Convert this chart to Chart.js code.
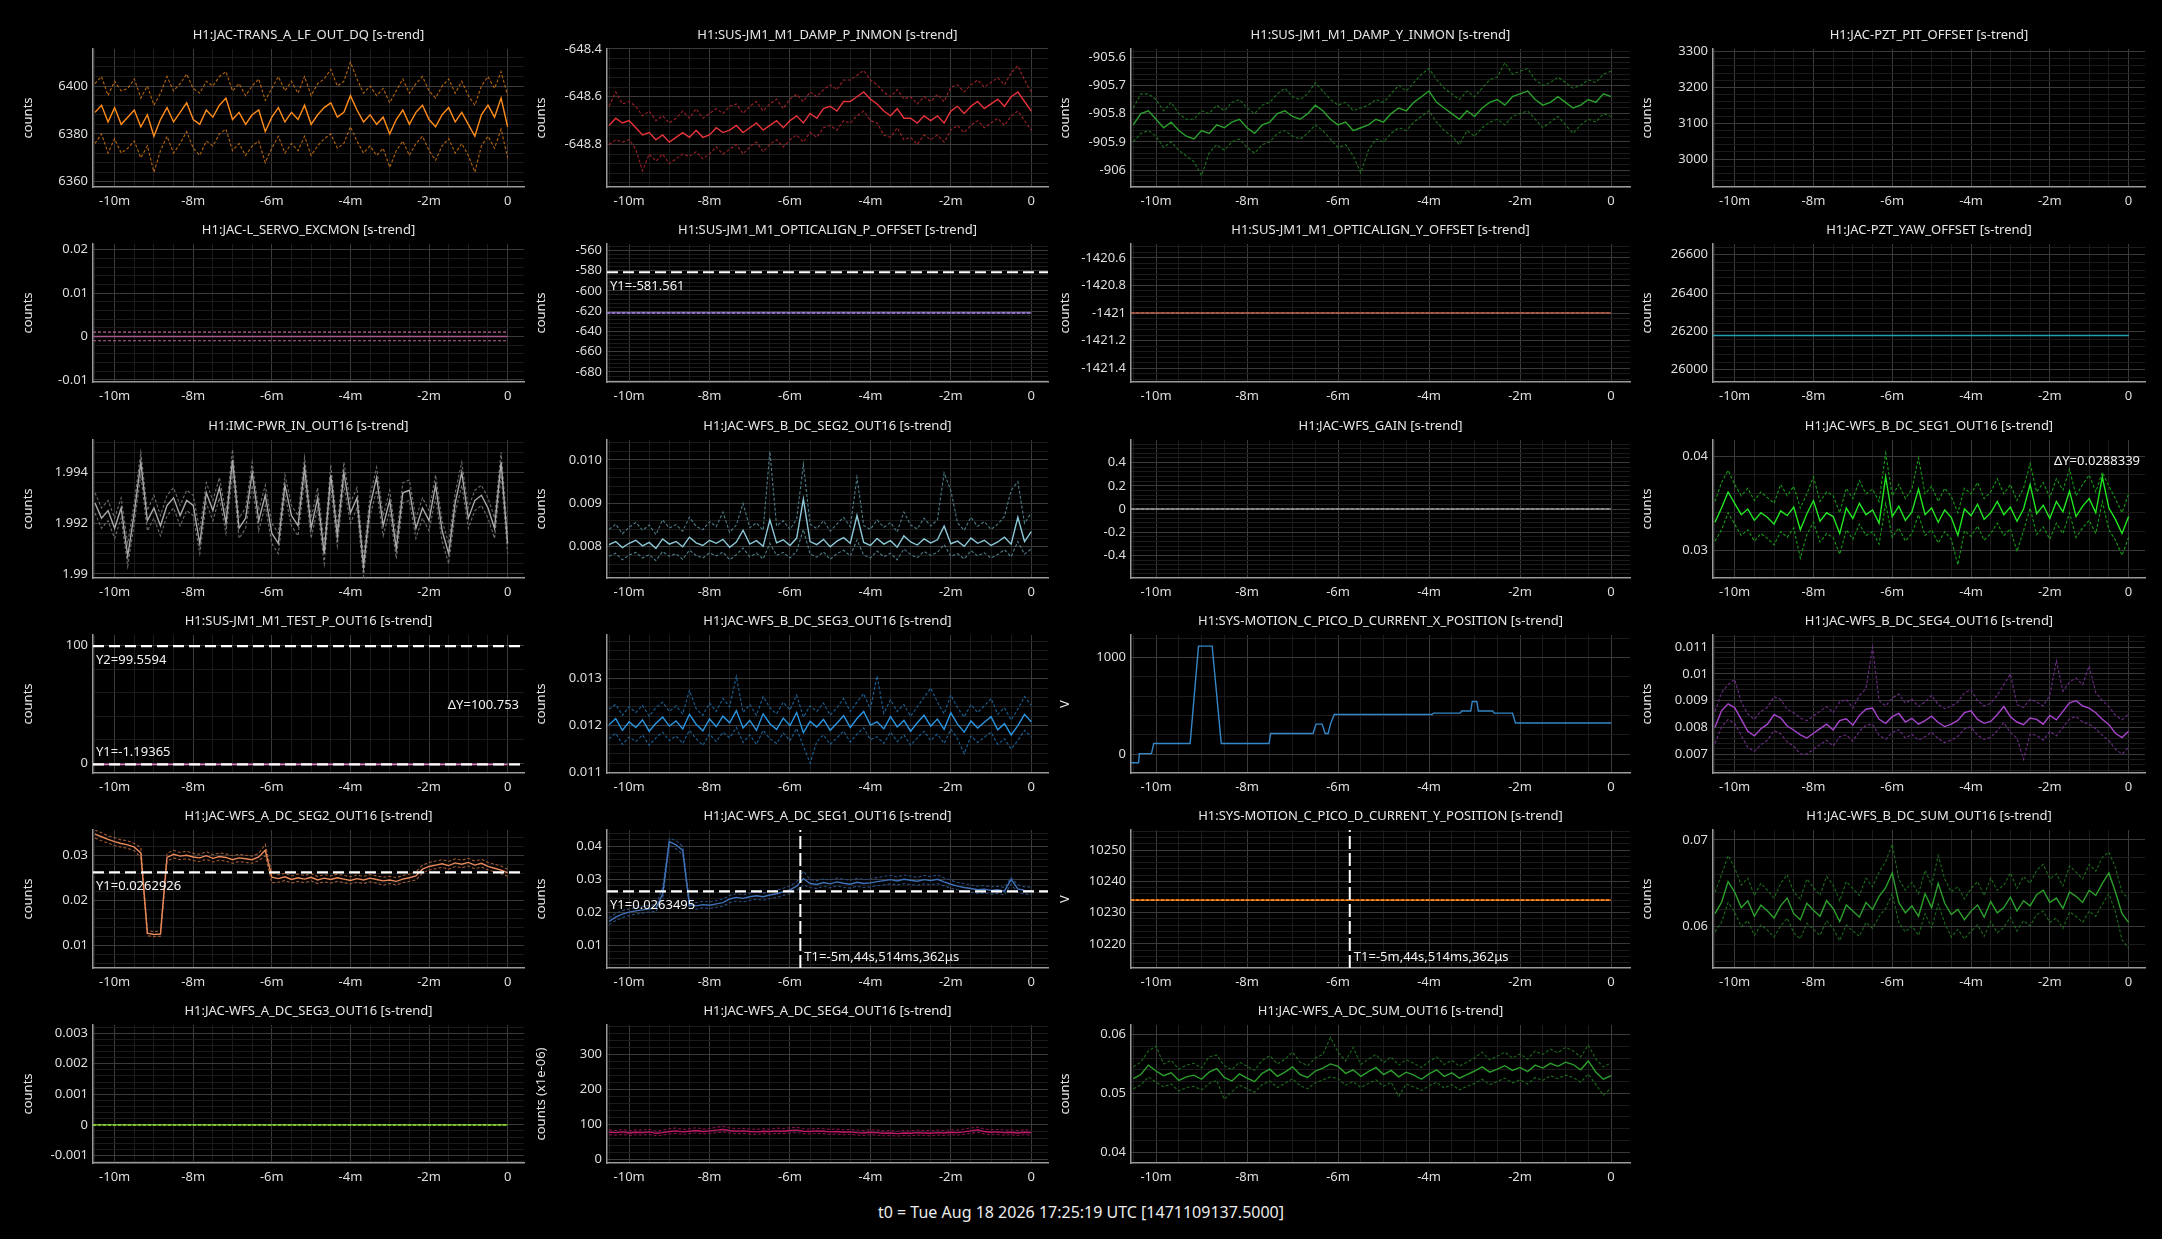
<!DOCTYPE html>
<html>
<head>
<meta charset="utf-8">
<script src="https://cdn.jsdelivr.net/npm/chart.js@4.4.1/dist/chart.umd.min.js"></script>
<style>
  body { margin: 0; background: #000; width: 2162px; height: 1239px; overflow: hidden; font-family: "Noto Sans", sans-serif; }
  canvas { position: absolute; }
  #t0 { position: absolute; left: 0; width: 2162px; top: 1201px; text-align: center; color: #ececec; font-size: 16px; line-height: 22px; }
</style>
</head>
<body>
<div id="t0">t0 = Tue Aug 18 2026 17:25:19 UTC [1471109137.5000]</div>
<script>
// sample times (seconds relative to t0)
const times = [
  -630, -620, -610, -600, -590, -580, -570, -560,
  -550, -540, -530, -520, -510, -500, -490, -480,
  -470, -460, -450, -440, -430, -420, -410, -400,
  -390, -380, -370, -360, -350, -340, -330, -320,
  -310, -300, -290, -280, -270, -260, -250, -240,
  -230, -220, -210, -200, -190, -180, -170, -160,
  -150, -140, -130, -120, -110, -100, -90, -80,
  -70, -60, -50, -40, -30, -20, -10, 0
];
const flatTimes = [-633, 0];
const xTickValues = [-600, -480, -360, -240, -120, 0];
const xTickLabels = ['-10m', '-8m', '-6m', '-4m', '-2m', '0'];

// H1:JAC-TRANS_A_LF_OUT_DQ
const transMean = [
  6389, 6392, 6385, 6391, 6384, 6387, 6390, 6383,
  6388, 6379, 6386, 6391, 6385, 6389, 6393, 6386,
  6384, 6390, 6387, 6392, 6395, 6386, 6389, 6384,
  6388, 6390, 6381, 6387, 6391, 6385, 6389, 6386,
  6392, 6384, 6388, 6391, 6393, 6387, 6389, 6396,
  6390, 6385, 6388, 6384, 6387, 6380, 6386, 6390,
  6384, 6389, 6392, 6386, 6383, 6388, 6391, 6385,
  6389, 6384, 6379, 6388, 6392, 6387, 6395, 6383
];
const transMax = [
  6401, 6404, 6396, 6402, 6398, 6399, 6403, 6395,
  6400, 6392, 6397, 6404, 6398, 6401, 6405, 6399,
  6397, 6402, 6400, 6404, 6406, 6398, 6401, 6396,
  6400, 6403, 6394, 6399, 6404, 6398, 6402, 6397,
  6404, 6396, 6401, 6403, 6407, 6400, 6402, 6410,
  6403, 6397, 6400, 6396, 6399, 6393, 6398, 6403,
  6397, 6401, 6404, 6398, 6395, 6400, 6403, 6397,
  6402, 6396, 6392, 6400, 6404, 6399, 6406, 6396
];
const transMin = [
  6376, 6380, 6372, 6378, 6372, 6374, 6377, 6370,
  6375, 6364, 6373, 6379, 6372, 6376, 6381, 6374,
  6371, 6377, 6375, 6380, 6382, 6373, 6376, 6371,
  6375, 6377, 6368, 6374, 6379, 6372, 6376, 6373,
  6379, 6371, 6375, 6378, 6380, 6374, 6376, 6383,
  6377, 6372, 6375, 6371, 6374, 6366, 6373, 6377,
  6371, 6376, 6379, 6373, 6369, 6375, 6378, 6372,
  6376, 6371, 6364, 6375, 6379, 6374, 6382, 6370
];

// H1:SUS-JM1_M1_DAMP_P_INMON
const dampPMean = [
  -648.72, -648.69, -648.71, -648.70, -648.73, -648.76, -648.75, -648.78,
  -648.76, -648.79, -648.77, -648.75, -648.77, -648.74, -648.77, -648.76,
  -648.73, -648.75, -648.74, -648.72, -648.75, -648.73, -648.71, -648.74,
  -648.72, -648.70, -648.73, -648.70, -648.68, -648.71, -648.67, -648.69,
  -648.65, -648.64, -648.66, -648.62, -648.62, -648.60, -648.58, -648.61,
  -648.63, -648.66, -648.68, -648.65, -648.69, -648.69, -648.71, -648.68,
  -648.70, -648.68, -648.71, -648.66, -648.64, -648.67, -648.64, -648.62,
  -648.65, -648.63, -648.61, -648.64, -648.60, -648.58, -648.62, -648.66
];
const dampPMax = [
  -648.64, -648.58, -648.63, -648.62, -648.64, -648.68, -648.66, -648.70,
  -648.68, -648.71, -648.69, -648.66, -648.69, -648.65, -648.69, -648.67,
  -648.65, -648.67, -648.64, -648.63, -648.67, -648.64, -648.62, -648.66,
  -648.63, -648.61, -648.65, -648.61, -648.59, -648.62, -648.58, -648.60,
  -648.57, -648.55, -648.57, -648.53, -648.53, -648.51, -648.49, -648.53,
  -648.55, -648.58, -648.60, -648.57, -648.61, -648.60, -648.63, -648.60,
  -648.62, -648.59, -648.62, -648.56, -648.55, -648.58, -648.55, -648.53,
  -648.56, -648.54, -648.52, -648.55, -648.50, -648.47, -648.53, -648.58
];
const dampPMin = [
  -648.80, -648.78, -648.79, -648.78, -648.82, -648.91, -648.84, -648.87,
  -648.84, -648.88, -648.86, -648.84, -648.85, -648.83, -648.86, -648.84,
  -648.81, -648.84, -648.82, -648.80, -648.84, -648.81, -648.79, -648.83,
  -648.80, -648.78, -648.81, -648.78, -648.76, -648.79, -648.75, -648.77,
  -648.73, -648.72, -648.74, -648.70, -648.71, -648.68, -648.66, -648.70,
  -648.71, -648.76, -648.77, -648.73, -648.78, -648.77, -648.80, -648.76,
  -648.78, -648.76, -648.79, -648.74, -648.72, -648.75, -648.72, -648.70,
  -648.73, -648.71, -648.69, -648.72, -648.68, -648.66, -648.70, -648.74
];

// H1:SUS-JM1_M1_DAMP_Y_INMON
const dampYMean = [
  -905.84, -905.80, -905.79, -905.82, -905.85, -905.83, -905.86, -905.88,
  -905.89, -905.86, -905.87, -905.84, -905.85, -905.83, -905.82, -905.85,
  -905.87, -905.84, -905.83, -905.80, -905.79, -905.81, -905.82, -905.80,
  -905.77, -905.79, -905.82, -905.84, -905.83, -905.86, -905.85, -905.84,
  -905.82, -905.83, -905.80, -905.78, -905.79, -905.76, -905.74, -905.72,
  -905.76, -905.78, -905.80, -905.82, -905.79, -905.81, -905.78, -905.76,
  -905.75, -905.77, -905.74, -905.73, -905.72, -905.75, -905.77, -905.76,
  -905.74, -905.76, -905.78, -905.77, -905.75, -905.76, -905.73, -905.74
];
const dampYMax = [
  -905.78, -905.73, -905.73, -905.75, -905.79, -905.76, -905.80, -905.82,
  -905.82, -905.79, -905.80, -905.77, -905.79, -905.76, -905.75, -905.78,
  -905.80, -905.77, -905.76, -905.73, -905.71, -905.74, -905.75, -905.73,
  -905.69, -905.72, -905.75, -905.77, -905.76, -905.79, -905.78, -905.77,
  -905.75, -905.76, -905.73, -905.70, -905.72, -905.69, -905.66, -905.64,
  -905.68, -905.71, -905.73, -905.75, -905.72, -905.74, -905.71, -905.68,
  -905.67, -905.62, -905.66, -905.65, -905.64, -905.68, -905.70, -905.69,
  -905.67, -905.69, -905.71, -905.70, -905.68, -905.69, -905.66, -905.65
];
const dampYMin = [
  -905.90, -905.87, -905.86, -905.88, -905.92, -905.90, -905.93, -905.95,
  -905.97, -906.02, -905.94, -905.91, -905.93, -905.90, -905.89, -905.92,
  -905.94, -905.91, -905.90, -905.87, -905.86, -905.88, -905.89, -905.87,
  -905.84, -905.86, -905.89, -905.92, -905.91, -905.95, -906.01, -905.93,
  -905.89, -905.90, -905.87, -905.85, -905.86, -905.83, -905.81, -905.79,
  -905.83, -905.86, -905.88, -905.91, -905.86, -905.88, -905.85, -905.83,
  -905.82, -905.84, -905.81, -905.80, -905.79, -905.82, -905.85, -905.83,
  -905.81, -905.84, -905.87, -905.84, -905.82, -905.83, -905.80, -905.81
];

// H1:JAC-PZT_PIT_OFFSET (nothing in range)
const pitMean = [];

// H1:JAC-L_SERVO_EXCMON
const servoMean = [0, 0];
const servoMax = [0.001, 0.001];
const servoMin = [-0.001, -0.001];

// H1:SUS-JM1_M1_OPTICALIGN_P_OFFSET / _Y_OFFSET, H1:JAC-PZT_YAW_OFFSET
const optPMean = [-621.7, -621.7];
const optYMean = [-1421, -1421];
const yawMean = [26179, 26179];

// H1:IMC-PWR_IN_OUT16
const pwrMean = [
  1.9928, 1.9922, 1.9925, 1.9918, 1.9926, 1.9907, 1.9924, 1.9944,
  1.9921, 1.9926, 1.9919, 1.9927, 1.9930, 1.9923, 1.9929, 1.9927,
  1.9912, 1.9932, 1.9925, 1.9934, 1.9920, 1.9945, 1.9918, 1.9922,
  1.9940, 1.9921, 1.9931, 1.9916, 1.9912, 1.9935, 1.9923, 1.9919,
  1.9942, 1.9918, 1.9930, 1.9908, 1.9939, 1.9915, 1.9940, 1.9924,
  1.9930, 1.9903, 1.9927, 1.9938, 1.9919, 1.9929, 1.9910, 1.9932,
  1.9933, 1.9918, 1.9926, 1.9921, 1.9935, 1.9917, 1.9908, 1.9928,
  1.9940, 1.9922, 1.9929, 1.9931, 1.9926, 1.9918, 1.9944, 1.9912
];
const pwrMax = [
  1.9932, 1.9926, 1.9929, 1.9922, 1.9930, 1.9912, 1.9928, 1.9948,
  1.9925, 1.9931, 1.9923, 1.9931, 1.9934, 1.9927, 1.9933, 1.9931,
  1.9917, 1.9936, 1.9929, 1.9938, 1.9924, 1.9949, 1.9922, 1.9926,
  1.9944, 1.9925, 1.9935, 1.9920, 1.9916, 1.9939, 1.9927, 1.9923,
  1.9946, 1.9922, 1.9934, 1.9912, 1.9943, 1.9919, 1.9944, 1.9928,
  1.9934, 1.9907, 1.9931, 1.9942, 1.9923, 1.9933, 1.9914, 1.9936,
  1.9937, 1.9922, 1.9930, 1.9925, 1.9939, 1.9921, 1.9912, 1.9932,
  1.9944, 1.9926, 1.9933, 1.9935, 1.9930, 1.9922, 1.9948, 1.9916
];
const pwrMin = [
  1.9924, 1.9918, 1.9921, 1.9914, 1.9922, 1.9903, 1.9920, 1.9939,
  1.9917, 1.9922, 1.9915, 1.9923, 1.9926, 1.9919, 1.9925, 1.9923,
  1.9908, 1.9928, 1.9921, 1.9930, 1.9916, 1.9940, 1.9914, 1.9918,
  1.9935, 1.9917, 1.9927, 1.9912, 1.9908, 1.9931, 1.9919, 1.9915,
  1.9937, 1.9914, 1.9926, 1.9904, 1.9934, 1.9911, 1.9935, 1.9920,
  1.9926, 1.9899, 1.9923, 1.9933, 1.9915, 1.9925, 1.9906, 1.9928,
  1.9929, 1.9914, 1.9922, 1.9917, 1.9930, 1.9913, 1.9904, 1.9924,
  1.9935, 1.9918, 1.9925, 1.9927, 1.9922, 1.9914, 1.9939, 1.9908
];

// H1:JAC-WFS_B_DC_SEG2_OUT16
const bSeg2Mean = [
  0.00805, 0.00812, 0.00798, 0.00808, 0.00815, 0.00802, 0.00810, 0.00796,
  0.00818, 0.00806, 0.00812, 0.00800, 0.00822, 0.00809, 0.00803, 0.00815,
  0.00808, 0.00817, 0.00799, 0.00811, 0.00838, 0.00806, 0.00814, 0.00801,
  0.00862, 0.00809, 0.00816, 0.00803, 0.00820, 0.00910, 0.00812, 0.00805,
  0.00817, 0.00800, 0.00813, 0.00821, 0.00808, 0.00872, 0.00810, 0.00803,
  0.00819, 0.00806, 0.00814, 0.00799, 0.00825, 0.00811, 0.00804, 0.00818,
  0.00809, 0.00816, 0.00848, 0.00807, 0.00813, 0.00801, 0.00820, 0.00808,
  0.00815, 0.00803, 0.00811, 0.00822, 0.00806, 0.00868, 0.00812, 0.00835
];
const bSeg2Max = [
  0.00840, 0.00852, 0.00830, 0.00845, 0.00856, 0.00838, 0.00850, 0.00828,
  0.00862, 0.00843, 0.00851, 0.00836, 0.00868, 0.00847, 0.00839, 0.00858,
  0.00846, 0.00880, 0.00833, 0.00850, 0.00900, 0.00844, 0.00855, 0.00838,
  0.01020, 0.00848, 0.00860, 0.00840, 0.00864, 0.00990, 0.00852, 0.00842,
  0.00860, 0.00836, 0.00852, 0.00868, 0.00846, 0.00960, 0.00849, 0.00840,
  0.00862, 0.00845, 0.00856, 0.00834, 0.00880, 0.00850, 0.00841, 0.00866,
  0.00848, 0.00862, 0.00970, 0.00930, 0.00855, 0.00838, 0.00868, 0.00847,
  0.00858, 0.00840, 0.00852, 0.00870, 0.00930, 0.00950, 0.00854, 0.00878
];
const bSeg2Min = [
  0.00778, 0.00785, 0.00770, 0.00781, 0.00787, 0.00774, 0.00782, 0.00768,
  0.00789, 0.00778, 0.00784, 0.00771, 0.00792, 0.00780, 0.00774, 0.00786,
  0.00779, 0.00788, 0.00770, 0.00782, 0.00797, 0.00777, 0.00785, 0.00772,
  0.00808, 0.00780, 0.00787, 0.00774, 0.00790, 0.00840, 0.00783, 0.00776,
  0.00788, 0.00771, 0.00784, 0.00792, 0.00779, 0.00816, 0.00781, 0.00774,
  0.00790, 0.00777, 0.00785, 0.00770, 0.00795, 0.00782, 0.00775, 0.00789,
  0.00780, 0.00787, 0.00805, 0.00778, 0.00784, 0.00772, 0.00791, 0.00779,
  0.00786, 0.00774, 0.00782, 0.00793, 0.00777, 0.00812, 0.00783, 0.00795
];

// H1:JAC-WFS_GAIN
const gainMean = [0, 0];

// H1:JAC-WFS_B_DC_SEG1_OUT16
const bSeg1Mean = [
  0.0330, 0.0345, 0.0362, 0.0350, 0.0338, 0.0344, 0.0332, 0.0340,
  0.0335, 0.0328, 0.0342, 0.0337, 0.0346, 0.0322, 0.0339, 0.0353,
  0.0331, 0.0340, 0.0336, 0.0318, 0.0345, 0.0334, 0.0350, 0.0338,
  0.0343, 0.0329, 0.0378, 0.0336, 0.0347, 0.0332, 0.0341, 0.0365,
  0.0338, 0.0345, 0.0330, 0.0343, 0.0335, 0.0316, 0.0344, 0.0337,
  0.0349, 0.0333, 0.0340, 0.0352, 0.0338, 0.0346, 0.0331, 0.0344,
  0.0370, 0.0339, 0.0348, 0.0334, 0.0352, 0.0341, 0.0363, 0.0336,
  0.0347, 0.0355, 0.0340, 0.0378, 0.0345, 0.0333, 0.0318, 0.0336
];
const bSeg1Max = [
  0.0352, 0.0372, 0.0385, 0.0370, 0.0358, 0.0366, 0.0353, 0.0362,
  0.0356, 0.0350, 0.0370, 0.0358, 0.0368, 0.0345, 0.0360, 0.0378,
  0.0352, 0.0362, 0.0358, 0.0340, 0.0366, 0.0355, 0.0374, 0.0360,
  0.0365, 0.0352, 0.0403, 0.0358, 0.0370, 0.0355, 0.0365, 0.0398,
  0.0360, 0.0368, 0.0352, 0.0366, 0.0357, 0.0340, 0.0366, 0.0360,
  0.0372, 0.0355, 0.0362, 0.0376, 0.0360, 0.0370, 0.0353, 0.0366,
  0.0392, 0.0362, 0.0372, 0.0356, 0.0376, 0.0364, 0.0386, 0.0358,
  0.0370, 0.0380, 0.0362, 0.0383, 0.0368, 0.0355, 0.0340, 0.0360
];
const bSeg1Min = [
  0.0310, 0.0322, 0.0340, 0.0328, 0.0316, 0.0322, 0.0310, 0.0318,
  0.0313, 0.0306, 0.0320, 0.0314, 0.0324, 0.0292, 0.0317, 0.0330,
  0.0309, 0.0318, 0.0314, 0.0296, 0.0322, 0.0312, 0.0328, 0.0316,
  0.0320, 0.0307, 0.0350, 0.0314, 0.0324, 0.0310, 0.0318, 0.0338,
  0.0316, 0.0322, 0.0308, 0.0320, 0.0312, 0.0285, 0.0321, 0.0315,
  0.0326, 0.0311, 0.0318, 0.0329, 0.0316, 0.0323, 0.0299, 0.0321,
  0.0345, 0.0317, 0.0325, 0.0312, 0.0329, 0.0318, 0.0340, 0.0314,
  0.0324, 0.0332, 0.0318, 0.0352, 0.0322, 0.0311, 0.0295, 0.0314
];
const bSeg1Delta = 0.0288339;

// H1:SUS-JM1_M1_TEST_P_OUT16
const testPMean = [-1.19365, -1.19365];
const testPY1 = -1.19365;
const testPY2 = 99.5594;

// H1:JAC-WFS_B_DC_SEG3_OUT16
const bSeg3Mean = [
  0.01202, 0.01215, 0.01190, 0.01208, 0.01196, 0.01212, 0.01188, 0.01205,
  0.01218, 0.01199, 0.01210, 0.01193, 0.01224, 0.01203, 0.01189, 0.01214,
  0.01198, 0.01220, 0.01206, 0.01232, 0.01195, 0.01211, 0.01190, 0.01225,
  0.01204, 0.01192, 0.01216, 0.01200, 0.01228, 0.01185, 0.01209, 0.01197,
  0.01213, 0.01190, 0.01205, 0.01221, 0.01196, 0.01215, 0.01230, 0.01201,
  0.01208, 0.01193, 0.01219, 0.01197, 0.01211, 0.01188, 0.01206, 0.01222,
  0.01199, 0.01214, 0.01192, 0.01227, 0.01203, 0.01186, 0.01210, 0.01195,
  0.01207, 0.01219, 0.01191, 0.01204, 0.01180, 0.01200, 0.01224, 0.01208
];
const bSeg3Max = [
  0.01235, 0.01245, 0.01222, 0.01240, 0.01228, 0.01243, 0.01220, 0.01238,
  0.01250, 0.01230, 0.01242, 0.01225, 0.01275, 0.01236, 0.01222, 0.01248,
  0.01230, 0.01258, 0.01240, 0.01305, 0.01228, 0.01245, 0.01222, 0.01262,
  0.01238, 0.01225, 0.01250, 0.01233, 0.01265, 0.01218, 0.01242, 0.01230,
  0.01248, 0.01222, 0.01238, 0.01258, 0.01230, 0.01250, 0.01268, 0.01235,
  0.01306, 0.01226, 0.01255, 0.01230, 0.01245, 0.01220, 0.01240, 0.01260,
  0.01280, 0.01250, 0.01225, 0.01265, 0.01238, 0.01218, 0.01245, 0.01228,
  0.01242, 0.01258, 0.01224, 0.01238, 0.01212, 0.01235, 0.01262, 0.01243
];
const bSeg3Min = [
  0.01172, 0.01184, 0.01160, 0.01176, 0.01166, 0.01180, 0.01158, 0.01174,
  0.01186, 0.01168, 0.01178, 0.01162, 0.01190, 0.01172, 0.01158, 0.01182,
  0.01166, 0.01186, 0.01174, 0.01196, 0.01164, 0.01180, 0.01160, 0.01190,
  0.01172, 0.01162, 0.01184, 0.01168, 0.01194, 0.01156, 0.01120, 0.01166,
  0.01180, 0.01160, 0.01174, 0.01188, 0.01165, 0.01182, 0.01195, 0.01170,
  0.01176, 0.01162, 0.01186, 0.01166, 0.01180, 0.01158, 0.01174, 0.01188,
  0.01168, 0.01182, 0.01162, 0.01192, 0.01172, 0.01140, 0.01178, 0.01164,
  0.01175, 0.01186, 0.01160, 0.01172, 0.01150, 0.01168, 0.01190, 0.01176
];

// H1:SYS-MOTION_C_PICO_D_CURRENT_X_POSITION
const picoXTimes = [
  -633, -623, -622, -606, -603, -555, -544, -526, -514, -451, -449,
  -393, -389, -381, -377, -373, -370, -365, -236, -234, -199, -197,
  -185, -183, -177, -175, -156, -154, -130, -126, 0
];
const picoXVals = [
  -90, -90, 5, 5, 110, 110, 1117, 1117, 110, 110, 213,
  213, 310, 310, 213, 213, 310, 410, 410, 424, 424, 445,
  445, 544, 544, 445, 445, 424, 424, 321, 321
];

// H1:JAC-WFS_B_DC_SEG4_OUT16
const bSeg4Mean = [
  0.00800, 0.00862, 0.00888, 0.00874, 0.00830, 0.00785, 0.00768, 0.00795,
  0.00812, 0.00848, 0.00836, 0.00805, 0.00790, 0.00772, 0.00760, 0.00778,
  0.00795, 0.00812, 0.00790, 0.00825, 0.00832, 0.00808, 0.00845, 0.00868,
  0.00872, 0.00830, 0.00815, 0.00840, 0.00852, 0.00820, 0.00834, 0.00812,
  0.00825, 0.00842, 0.00818, 0.00803, 0.00812, 0.00826, 0.00855, 0.00862,
  0.00830, 0.00815, 0.00822, 0.00848, 0.00878, 0.00840, 0.00820, 0.00810,
  0.00835, 0.00830, 0.00812, 0.00845, 0.00828, 0.00860, 0.00892, 0.00900,
  0.00880, 0.00872, 0.00855, 0.00830, 0.00810, 0.00778, 0.00762, 0.00785
];
const bSeg4Max = [
  0.00860, 0.00930, 0.00960, 0.00980, 0.00895, 0.00850, 0.00830, 0.00860,
  0.00875, 0.00915, 0.00905, 0.00868, 0.00855, 0.00835, 0.00825, 0.00842,
  0.00860, 0.00878, 0.00855, 0.00895, 0.00905, 0.00872, 0.00920, 0.00945,
  0.01100, 0.00900, 0.00880, 0.00910, 0.00925, 0.00890, 0.00905, 0.00878,
  0.00895, 0.00920, 0.00885, 0.00870, 0.00880, 0.00895, 0.00930, 0.00940,
  0.00900, 0.00880, 0.00890, 0.00920, 0.00960, 0.01000, 0.00885, 0.00875,
  0.00905, 0.00895, 0.00880, 0.00920, 0.01050, 0.00935, 0.00970, 0.00985,
  0.00960, 0.01030, 0.00930, 0.00900, 0.00878, 0.00845, 0.00828, 0.00850
];
const bSeg4Min = [
  0.00740, 0.00800, 0.00830, 0.00815, 0.00770, 0.00725, 0.00710, 0.00735,
  0.00752, 0.00788, 0.00776, 0.00745, 0.00730, 0.00700, 0.00700, 0.00718,
  0.00735, 0.00752, 0.00730, 0.00765, 0.00772, 0.00748, 0.00785, 0.00808,
  0.00812, 0.00770, 0.00755, 0.00780, 0.00792, 0.00760, 0.00774, 0.00752,
  0.00765, 0.00782, 0.00758, 0.00743, 0.00752, 0.00766, 0.00795, 0.00802,
  0.00770, 0.00755, 0.00762, 0.00788, 0.00818, 0.00780, 0.00760, 0.00680,
  0.00775, 0.00770, 0.00752, 0.00785, 0.00768, 0.00800, 0.00832, 0.00840,
  0.00820, 0.00812, 0.00795, 0.00770, 0.00750, 0.00718, 0.00700, 0.00725
];

// H1:JAC-WFS_A_DC_SEG2_OUT16
const aSeg2Mean = [
  0.0348, 0.0342, 0.0336, 0.0331, 0.0327, 0.0324, 0.0319, 0.0306,
  0.0128, 0.0125, 0.0126, 0.0296, 0.0303, 0.0299, 0.0301, 0.0297,
  0.0295, 0.0300, 0.0294, 0.0298, 0.0296, 0.0291, 0.0295, 0.0293,
  0.0291, 0.0297, 0.0312, 0.0252, 0.0249, 0.0253, 0.0247, 0.0251,
  0.0248, 0.0252, 0.0246, 0.0250, 0.0247, 0.0251, 0.0248, 0.0245,
  0.0249, 0.0246, 0.0250, 0.0247, 0.0244, 0.0246, 0.0243, 0.0248,
  0.0251, 0.0255, 0.0270, 0.0276, 0.0279, 0.0282, 0.0278, 0.0284,
  0.0281, 0.0285, 0.0279, 0.0283, 0.0276, 0.0272, 0.0268, 0.0262
];
const aSeg2Max = [
  0.0357, 0.0351, 0.0344, 0.0340, 0.0335, 0.0333, 0.0327, 0.0318,
  0.0135, 0.0131, 0.0133, 0.0305, 0.0312, 0.0307, 0.0310, 0.0305,
  0.0303, 0.0309, 0.0302, 0.0306, 0.0304, 0.0300, 0.0303, 0.0301,
  0.0299, 0.0305, 0.0325, 0.0262, 0.0257, 0.0261, 0.0255, 0.0259,
  0.0256, 0.0260, 0.0254, 0.0258, 0.0255, 0.0259, 0.0256, 0.0253,
  0.0257, 0.0254, 0.0258, 0.0255, 0.0252, 0.0254, 0.0251, 0.0256,
  0.0259, 0.0264, 0.0279, 0.0285, 0.0288, 0.0291, 0.0287, 0.0293,
  0.0290, 0.0294, 0.0288, 0.0292, 0.0285, 0.0281, 0.0277, 0.0270
];
const aSeg2Min = [
  0.0339, 0.0333, 0.0328, 0.0322, 0.0319, 0.0316, 0.0311, 0.0296,
  0.0122, 0.0120, 0.0121, 0.0288, 0.0295, 0.0291, 0.0293, 0.0289,
  0.0287, 0.0292, 0.0286, 0.0290, 0.0288, 0.0283, 0.0287, 0.0285,
  0.0283, 0.0289, 0.0300, 0.0240, 0.0241, 0.0245, 0.0239, 0.0243,
  0.0240, 0.0244, 0.0238, 0.0242, 0.0239, 0.0243, 0.0240, 0.0237,
  0.0241, 0.0238, 0.0242, 0.0239, 0.0234, 0.0238, 0.0235, 0.0240,
  0.0243, 0.0246, 0.0261, 0.0268, 0.0271, 0.0274, 0.0270, 0.0276,
  0.0273, 0.0277, 0.0271, 0.0275, 0.0268, 0.0264, 0.0260, 0.0254
];
const aSeg2Y1 = 0.0262926;

// H1:JAC-WFS_A_DC_SEG1_OUT16
const aSeg1Mean = [
  0.0172, 0.0185, 0.0194, 0.0200, 0.0204, 0.0207, 0.0210, 0.0212,
  0.0255, 0.0415, 0.0405, 0.0388, 0.0222, 0.0219, 0.0223, 0.0221,
  0.0225, 0.0229, 0.0240, 0.0245, 0.0242, 0.0247, 0.0250, 0.0247,
  0.0252, 0.0256, 0.0262, 0.0268, 0.0279, 0.0302, 0.0287, 0.0284,
  0.0290, 0.0286, 0.0292, 0.0288, 0.0285, 0.0291, 0.0287, 0.0289,
  0.0293, 0.0296, 0.0299, 0.0295, 0.0300, 0.0297, 0.0294, 0.0299,
  0.0296, 0.0300, 0.0292, 0.0285, 0.0279, 0.0275, 0.0272, 0.0268,
  0.0270, 0.0266, 0.0268, 0.0264, 0.0300, 0.0271, 0.0266, 0.0265
];
const aSeg1Max = [
  0.0182, 0.0196, 0.0205, 0.0210, 0.0214, 0.0217, 0.0221, 0.0223,
  0.0275, 0.0425, 0.0418, 0.0400, 0.0232, 0.0229, 0.0233, 0.0231,
  0.0235, 0.0240, 0.0251, 0.0256, 0.0253, 0.0258, 0.0261, 0.0258,
  0.0263, 0.0267, 0.0273, 0.0280, 0.0292, 0.0325, 0.0299, 0.0296,
  0.0301, 0.0298, 0.0304, 0.0300, 0.0297, 0.0303, 0.0299, 0.0301,
  0.0305, 0.0309, 0.0312, 0.0307, 0.0313, 0.0310, 0.0306, 0.0312,
  0.0308, 0.0313, 0.0304, 0.0297, 0.0290, 0.0287, 0.0283, 0.0279,
  0.0281, 0.0277, 0.0279, 0.0275, 0.0305, 0.0283, 0.0277, 0.0276
];
const aSeg1Min = [
  0.0162, 0.0174, 0.0184, 0.0190, 0.0194, 0.0197, 0.0200, 0.0202,
  0.0235, 0.0405, 0.0393, 0.0376, 0.0212, 0.0209, 0.0213, 0.0211,
  0.0215, 0.0218, 0.0229, 0.0234, 0.0231, 0.0236, 0.0239, 0.0236,
  0.0241, 0.0245, 0.0251, 0.0256, 0.0266, 0.0283, 0.0275, 0.0272,
  0.0279, 0.0274, 0.0280, 0.0276, 0.0273, 0.0279, 0.0275, 0.0277,
  0.0281, 0.0283, 0.0286, 0.0283, 0.0287, 0.0284, 0.0282, 0.0286,
  0.0284, 0.0287, 0.0280, 0.0273, 0.0268, 0.0264, 0.0261, 0.0257,
  0.0259, 0.0255, 0.0257, 0.0253, 0.0285, 0.0260, 0.0255, 0.0254
];
const aSeg1Y1 = 0.0263495;
const cursorT1 = -344.514362;
const cursorT1Text = 'T1=-5m,44s,514ms,362μs';

// H1:SYS-MOTION_C_PICO_D_CURRENT_Y_POSITION
const picoYMean = [10234, 10234];

// H1:JAC-WFS_B_DC_SUM_OUT16
const bSumMean = [
  0.0615, 0.0628, 0.0652, 0.0640, 0.0622, 0.0630, 0.0612, 0.0625,
  0.0618, 0.0610, 0.0624, 0.0633, 0.0615, 0.0608, 0.0627, 0.0619,
  0.0612, 0.0630, 0.0621, 0.0606, 0.0625, 0.0618, 0.0611, 0.0628,
  0.0620, 0.0635, 0.0645, 0.0662, 0.0628, 0.0616, 0.0624, 0.0612,
  0.0638, 0.0622, 0.0650, 0.0627, 0.0614, 0.0620, 0.0608, 0.0618,
  0.0625, 0.0611, 0.0629, 0.0616, 0.0622, 0.0634, 0.0618, 0.0630,
  0.0624, 0.0637, 0.0642, 0.0628, 0.0633, 0.0621, 0.0640, 0.0635,
  0.0628, 0.0642, 0.0636, 0.0650, 0.0662, 0.0640, 0.0615, 0.0605
];
const bSumMax = [
  0.0640, 0.0660, 0.0682, 0.0668, 0.0648, 0.0656, 0.0636, 0.0650,
  0.0642, 0.0633, 0.0650, 0.0660, 0.0640, 0.0632, 0.0655, 0.0645,
  0.0636, 0.0658, 0.0648, 0.0630, 0.0652, 0.0644, 0.0636, 0.0656,
  0.0646, 0.0663, 0.0675, 0.0695, 0.0655, 0.0642, 0.0651, 0.0638,
  0.0665, 0.0648, 0.0682, 0.0655, 0.0640, 0.0646, 0.0632, 0.0644,
  0.0652, 0.0636, 0.0656, 0.0642, 0.0648, 0.0662, 0.0644, 0.0658,
  0.0650, 0.0665, 0.0672, 0.0655, 0.0661, 0.0647, 0.0670, 0.0663,
  0.0655, 0.0672, 0.0664, 0.0680, 0.0686, 0.0668, 0.0640, 0.0632
];
const bSumMin = [
  0.0594, 0.0605, 0.0628, 0.0617, 0.0600, 0.0607, 0.0590, 0.0602,
  0.0596, 0.0588, 0.0601, 0.0610, 0.0593, 0.0586, 0.0604, 0.0597,
  0.0590, 0.0607, 0.0598, 0.0584, 0.0602, 0.0595, 0.0589, 0.0605,
  0.0598, 0.0612, 0.0621, 0.0638, 0.0605, 0.0594, 0.0601, 0.0590,
  0.0615, 0.0599, 0.0626, 0.0604, 0.0588, 0.0597, 0.0586, 0.0595,
  0.0602, 0.0589, 0.0606, 0.0593, 0.0599, 0.0611, 0.0595, 0.0607,
  0.0601, 0.0614, 0.0618, 0.0605, 0.0610, 0.0598, 0.0617, 0.0612,
  0.0605, 0.0618, 0.0612, 0.0626, 0.0638, 0.0617, 0.0585, 0.0575
];

// H1:JAC-WFS_A_DC_SEG3_OUT16
const aSeg3Mean = [0, 0];

// H1:JAC-WFS_A_DC_SEG4_OUT16 (x1e-06)
const aSeg4Mean = [
  78, 77, 79, 76, 78, 77, 79, 75,
  77, 80, 82, 79, 81, 83, 80, 82,
  84, 86, 83, 81, 82, 80, 79, 81,
  80, 82, 81, 83, 84, 81, 80, 82,
  81, 79, 80, 78, 79, 77, 76, 78,
  77, 75, 76, 74, 76, 75, 77, 76,
  75, 77, 76, 78, 77, 79, 82, 85,
  80, 78, 79, 77, 78, 76, 78, 77
];
const aSeg4Max = [
  85, 83, 86, 82, 85, 84, 86, 81,
  84, 88, 90, 86, 88, 91, 87, 89,
  92, 95, 90, 88, 89, 87, 86, 88,
  87, 90, 88, 91, 92, 88, 87, 89,
  88, 86, 87, 85, 86, 84, 83, 85,
  84, 82, 83, 81, 83, 82, 84, 83,
  82, 84, 83, 85, 84, 87, 90, 93,
  87, 85, 86, 84, 85, 83, 85, 84
];
const aSeg4Min = [
  71, 70, 72, 69, 71, 70, 72, 68,
  70, 73, 75, 72, 74, 76, 73, 75,
  77, 79, 76, 74, 75, 73, 72, 74,
  73, 75, 74, 76, 77, 74, 73, 75,
  74, 72, 73, 71, 72, 70, 69, 71,
  70, 68, 69, 67, 69, 68, 70, 69,
  68, 70, 69, 71, 70, 72, 75, 78,
  73, 71, 72, 70, 71, 69, 71, 70
];

// H1:JAC-WFS_A_DC_SUM_OUT16
const aSumMean = [
  0.0525, 0.0532, 0.0548, 0.0538, 0.0530, 0.0535, 0.0522, 0.0528,
  0.0531, 0.0524, 0.0536, 0.0542, 0.0527, 0.0521, 0.0533, 0.0526,
  0.0520, 0.0534, 0.0541, 0.0529, 0.0536, 0.0545, 0.0532, 0.0527,
  0.0538, 0.0543, 0.0550, 0.0546, 0.0534, 0.0540, 0.0529, 0.0537,
  0.0544, 0.0532, 0.0539, 0.0528, 0.0536, 0.0531, 0.0524, 0.0533,
  0.0540, 0.0529, 0.0535, 0.0526, 0.0532, 0.0538, 0.0545, 0.0536,
  0.0541, 0.0547, 0.0539, 0.0544, 0.0537, 0.0548, 0.0543, 0.0551,
  0.0546, 0.0553, 0.0549, 0.0540, 0.0555, 0.0536, 0.0524, 0.0530
];
const aSumMax = [
  0.0545, 0.0553, 0.0572, 0.0580, 0.0550, 0.0556, 0.0541, 0.0548,
  0.0551, 0.0543, 0.0562, 0.0565, 0.0547, 0.0540, 0.0553, 0.0546,
  0.0539, 0.0556, 0.0564, 0.0550, 0.0558, 0.0570, 0.0553, 0.0547,
  0.0560, 0.0566, 0.0595, 0.0570, 0.0555, 0.0578, 0.0549, 0.0558,
  0.0566, 0.0552, 0.0562, 0.0548, 0.0557, 0.0551, 0.0544, 0.0554,
  0.0562, 0.0549, 0.0556, 0.0546, 0.0553, 0.0560, 0.0570, 0.0557,
  0.0563, 0.0570, 0.0560, 0.0567, 0.0558, 0.0572, 0.0566, 0.0575,
  0.0569, 0.0578, 0.0572, 0.0562, 0.0582, 0.0558, 0.0545, 0.0552
];
const aSumMin = [
  0.0508, 0.0514, 0.0528, 0.0519, 0.0511, 0.0516, 0.0504, 0.0510,
  0.0512, 0.0506, 0.0517, 0.0522, 0.0490, 0.0503, 0.0514, 0.0508,
  0.0502, 0.0515, 0.0521, 0.0510, 0.0517, 0.0525, 0.0513, 0.0508,
  0.0518, 0.0523, 0.0528, 0.0525, 0.0514, 0.0520, 0.0510, 0.0517,
  0.0523, 0.0512, 0.0519, 0.0495, 0.0516, 0.0511, 0.0505, 0.0513,
  0.0519, 0.0509, 0.0515, 0.0506, 0.0512, 0.0517, 0.0524, 0.0515,
  0.0520, 0.0526, 0.0518, 0.0523, 0.0516, 0.0527, 0.0522, 0.0530,
  0.0525, 0.0531, 0.0527, 0.0519, 0.0533, 0.0515, 0.0497, 0.0509
];

const optPY1 = -581.561;

// y tick labels per panel
const transTicks = ['6360', '6380', '6400'];
const dampPTicks = ['-648.8', '-648.6', '-648.4'];
const dampYTicks = ['-906', '-905.9', '-905.8', '-905.7', '-905.6'];
const pitTicks = ['3000', '3100', '3200', '3300'];
const servoTicks = ['-0.01', '0', '0.01', '0.02'];
const optPTicks = ['-680', '-660', '-640', '-620', '-600', '-580', '-560'];
const optYTicks = ['-1421.4', '-1421.2', '-1421', '-1420.8', '-1420.6'];
const yawTicks = ['26000', '26200', '26400', '26600'];
const pwrTicks = ['1.99', '1.992', '1.994'];
const bSeg2Ticks = ['0.008', '0.009', '0.010'];
const gainTicks = ['-0.4', '-0.2', '0', '0.2', '0.4'];
const bSeg1Ticks = ['0.03', '0.04'];
const testPTicks = ['0', '100'];
const bSeg3Ticks = ['0.011', '0.012', '0.013'];
const picoXTicks = ['0', '1000'];
const bSeg4Ticks = ['0.007', '0.008', '0.009', '0.01', '0.011'];
const aSeg2Ticks = ['0.01', '0.02', '0.03'];
const aSeg1Ticks = ['0.01', '0.02', '0.03', '0.04'];
const picoYTicks = ['10220', '10230', '10240', '10250'];
const bSumTicks = ['0.06', '0.07'];
const aSeg3Ticks = ['-0.001', '0', '0.001', '0.002', '0.003'];
const aSeg4Ticks = ['0', '100', '200', '300'];
const aSumTicks = ['0.04', '0.05', '0.06'];

// ---- layout ----
const X_MIN = -633, X_MAX = 25;
const cols = [
  { cell: 0, label: 28, left: 93, right: 524 },
  { cell: 528, label: 541, left: 607, right: 1048 },
  { cell: 1050, label: 1065, left: 1131, right: 1630 },
  { cell: 1634, label: 1647, left: 1713, right: 2145 }
];
const ROW0 = 49.3, ROW_STEP = 195.15, PLOT_H = 137.5, PAD_TOP = 34, AXIS_H = 28, PAD_R = 12;
const MAJOR_GRID = '#3a3a3a', MINOR_GRID = '#1b1b1b';

Chart.defaults.font.family = 'Noto Sans';
Chart.defaults.font.size = 13;
Chart.defaults.color = '#dedede';

const pts = (xs, ys) => xs.map((x, i) => ({ x, y: ys[i] }));

function trend(xs, mean, min, max, c1, c2) {
  const sets = [{ data: pts(xs, mean), borderColor: c1, borderWidth: 1.4, order: 1 }];
  if (min) sets.push({ data: pts(xs, min), borderColor: c2, borderWidth: 1.1, borderDash: [3, 2], order: 2 });
  if (max) sets.push({ data: pts(xs, max), borderColor: c2, borderWidth: 1.1, borderDash: [3, 2], order: 2 });
  return sets;
}
function hCursor(v) {
  return { data: [{ x: X_MIN, y: v }, { x: X_MAX, y: v }], borderColor: '#ffffff', borderWidth: 2.2, borderDash: [11, 5], order: 0 };
}
function vCursor(t, range) {
  return { data: [{ x: t, y: range[0] }, { x: t, y: range[1] }], borderColor: '#ffffff', borderWidth: 2, borderDash: [13, 4], order: 0 };
}

const panels = [
  { title: 'H1:JAC-TRANS_A_LF_OUT_DQ [s-trend]', col: 0, row: 0, y: [6357.8, 6415.5], ticks: transTicks, ylabel: 'counts',
    sets: trend(times, transMean, transMin, transMax, '#ff8c1a', '#b5650f') },
  { title: 'H1:SUS-JM1_M1_DAMP_P_INMON [s-trend]', col: 1, row: 0, y: [-648.978, -648.40], ticks: dampPTicks, ylabel: 'counts',
    sets: trend(times, dampPMean, dampPMin, dampPMax, '#e8333a', '#9c2228') },
  { title: 'H1:SUS-JM1_M1_DAMP_Y_INMON [s-trend]', col: 2, row: 0, y: [-906.06, -905.571], ticks: dampYTicks, ylabel: 'counts',
    sets: trend(times, dampYMean, dampYMin, dampYMax, '#2ca02c', '#1e701e') },
  { title: 'H1:JAC-PZT_PIT_OFFSET [s-trend]', col: 3, row: 0, y: [2922, 3307], ticks: pitTicks, ylabel: 'counts',
    sets: trend([], pitMean, null, null, '#888888', '#888888') },

  { title: 'H1:JAC-L_SERVO_EXCMON [s-trend]', col: 0, row: 1, y: [-0.0105, 0.0213], ticks: servoTicks, ylabel: 'counts',
    sets: trend(flatTimes, servoMean, servoMin, servoMax, '#a5578a', '#b8659a') },
  { title: 'H1:SUS-JM1_M1_OPTICALIGN_P_OFFSET [s-trend]', col: 1, row: 1, y: [-689.9, -553.7], ticks: optPTicks, ylabel: 'counts',
    sets: [hCursor(optPY1), ...trend(flatTimes, optPMean, optPMean, optPMean, '#8a6cc4', '#b29be0')],
    notes: [{ kind: 'h', value: optPY1, text: 'Y1=' + optPY1 }] },
  { title: 'H1:SUS-JM1_M1_OPTICALIGN_Y_OFFSET [s-trend]', col: 2, row: 1, y: [-1421.5, -1420.5], ticks: optYTicks, ylabel: 'counts',
    sets: trend(flatTimes, optYMean, optYMean, optYMean, '#a8584a', '#c77a6a') },
  { title: 'H1:JAC-PZT_YAW_OFFSET [s-trend]', col: 3, row: 1, y: [25936, 26656], ticks: yawTicks, ylabel: 'counts',
    sets: trend(flatTimes, yawMean, yawMean, yawMean, '#1f9fb2', '#4fc6d6') },

  { title: 'H1:IMC-PWR_IN_OUT16 [s-trend]', col: 0, row: 2, y: [1.98984, 1.99528], ticks: pwrTicks, ylabel: 'counts',
    sets: trend(times, pwrMean, pwrMin, pwrMax, '#a9a9a9', '#6c6c6c') },
  { title: 'H1:JAC-WFS_B_DC_SEG2_OUT16 [s-trend]', col: 1, row: 2, y: [0.00728, 0.01046], ticks: bSeg2Ticks, ylabel: 'counts',
    sets: trend(times, bSeg2Mean, bSeg2Min, bSeg2Max, '#8cc8d8', '#4d7c87') },
  { title: 'H1:JAC-WFS_GAIN [s-trend]', col: 2, row: 2, y: [-0.595, 0.595], ticks: gainTicks, ylabel: '',
    sets: trend(flatTimes, gainMean, gainMean, gainMean, '#8a8a8a', '#b0b0b0') },
  { title: 'H1:JAC-WFS_B_DC_SEG1_OUT16 [s-trend]', col: 3, row: 2, y: [0.0271, 0.0417], ticks: bSeg1Ticks, ylabel: 'counts',
    sets: trend(times, bSeg1Mean, bSeg1Min, bSeg1Max, '#22e622', '#169a16'),
    notes: [{ kind: 'd', value: null, text: 'ΔY=' + bSeg1Delta }] },

  { title: 'H1:SUS-JM1_M1_TEST_P_OUT16 [s-trend]', col: 0, row: 3, y: [-8.5, 109.1], ticks: testPTicks, ylabel: 'counts',
    sets: [hCursor(testPY2), hCursor(testPY1), ...trend(flatTimes, testPMean, null, null, '#e377c2', '#e377c2')],
    notes: [
      { kind: 'h', value: testPY2, text: 'Y2=' + testPY2 },
      { kind: 'h', value: testPY1, text: 'Y1=' + testPY1, above: true },
      { kind: 'd', value: (testPY1 + testPY2) / 2, text: 'ΔY=' + Number((testPY2 - testPY1).toPrecision(6)) }
    ] },
  { title: 'H1:JAC-WFS_B_DC_SEG3_OUT16 [s-trend]', col: 1, row: 3, y: [0.01099, 0.01393], ticks: bSeg3Ticks, ylabel: 'counts',
    sets: trend(times, bSeg3Mean, bSeg3Min, bSeg3Max, '#2a96e2', '#1b6196') },
  { title: 'H1:SYS-MOTION_C_PICO_D_CURRENT_X_POSITION [s-trend]', col: 2, row: 3, y: [-196, 1232], ticks: picoXTicks, ylabel: 'V',
    sets: trend(picoXTimes, picoXVals, null, null, '#3586c6', '#3586c6') },
  { title: 'H1:JAC-WFS_B_DC_SEG4_OUT16 [s-trend]', col: 3, row: 3, y: [0.00629, 0.01146], ticks: bSeg4Ticks, ylabel: 'counts',
    sets: trend(times, bSeg4Mean, bSeg4Min, bSeg4Max, '#a845cf', '#6d2c88') },

  { title: 'H1:JAC-WFS_A_DC_SEG2_OUT16 [s-trend]', col: 0, row: 4, y: [0.00504, 0.0357], ticks: aSeg2Ticks, ylabel: 'counts',
    sets: [hCursor(aSeg2Y1), ...trend(times, aSeg2Mean, aSeg2Min, aSeg2Max, '#e8895a', '#9c5a38')],
    notes: [{ kind: 'h', value: aSeg2Y1, text: 'Y1=' + aSeg2Y1 }] },
  { title: 'H1:JAC-WFS_A_DC_SEG1_OUT16 [s-trend]', col: 1, row: 4, y: [0.003, 0.045], ticks: aSeg1Ticks, ylabel: 'counts',
    sets: [hCursor(aSeg1Y1), vCursor(cursorT1, [0.003, 0.045]), ...trend(times, aSeg1Mean, aSeg1Min, aSeg1Max, '#3f72b9', '#2a4c7c')],
    notes: [{ kind: 'h', value: aSeg1Y1, text: 'Y1=' + aSeg1Y1 }, { kind: 'v', value: cursorT1, text: cursorT1Text }] },
  { title: 'H1:SYS-MOTION_C_PICO_D_CURRENT_Y_POSITION [s-trend]', col: 2, row: 4, y: [10212.3, 10256.4], ticks: picoYTicks, ylabel: 'V',
    sets: [vCursor(cursorT1, [10212.3, 10256.4]), ...trend(flatTimes, picoYMean, picoYMean, picoYMean, '#ff7f0e', '#ffa040')],
    notes: [{ kind: 'v', value: cursorT1, text: cursorT1Text }] },
  { title: 'H1:JAC-WFS_B_DC_SUM_OUT16 [s-trend]', col: 3, row: 4, y: [0.05524, 0.07115], ticks: bSumTicks, ylabel: 'counts',
    sets: trend(times, bSumMean, bSumMin, bSumMax, '#2ca02c', '#1c6a1c') },

  { title: 'H1:JAC-WFS_A_DC_SEG3_OUT16 [s-trend]', col: 0, row: 5, y: [-0.00125, 0.00327], ticks: aSeg3Ticks, ylabel: 'counts',
    sets: trend(flatTimes, aSeg3Mean, aSeg3Mean, aSeg3Mean, '#7cc42a', '#a6e050') },
  { title: 'H1:JAC-WFS_A_DC_SEG4_OUT16 [s-trend]', col: 1, row: 5, y: [-9.4, 383], ticks: aSeg4Ticks, ylabel: 'counts (x1e-06)',
    sets: trend(times, aSeg4Mean, aSeg4Min, aSeg4Max, '#c2186b', '#82124a') },
  { title: 'H1:JAC-WFS_A_DC_SUM_OUT16 [s-trend]', col: 2, row: 5, y: [0.0382, 0.0616], ticks: aSumTicks, ylabel: 'counts',
    sets: trend(times, aSumMean, aSumMin, aSumMax, '#2ca02c', '#1c6a1c') }
];

function textPlugin(p, c) {
  return {
    id: 'panelText',
    afterDraw(chart) {
      const { ctx, chartArea: a } = chart;
      const xs = chart.scales.x, ys = chart.scales.y;
      ctx.save();
      ctx.fillStyle = '#e6e6e6';
      ctx.font = '13px "Noto Sans"';
      ctx.textAlign = 'center';
      ctx.textBaseline = 'middle';
      ctx.fillText(p.title, (a.left + a.right) / 2, a.top - 14);
      if (p.ylabel) {
        ctx.save();
        ctx.translate(c.label - c.cell, (a.top + a.bottom) / 2);
        ctx.rotate(-Math.PI / 2);
        ctx.fillText(p.ylabel, 0, 0);
        ctx.restore();
      }
      ctx.fillStyle = '#f2f2f2';
      (p.notes || []).forEach(n => {
        if (n.kind === 'h') {
          ctx.textAlign = 'left';
          ctx.fillText(n.text, a.left + 3, ys.getPixelForValue(n.value) + (n.above ? -12 : 14));
        } else if (n.kind === 'v') {
          ctx.textAlign = 'left';
          ctx.fillText(n.text, xs.getPixelForValue(n.value) + 4, a.bottom - 11);
        } else {
          ctx.textAlign = 'right';
          const py = n.value == null ? a.top + 21 : ys.getPixelForValue(n.value);
          ctx.fillText(n.text, a.right - 5, py);
        }
      });
      ctx.restore();
    }
  };
}

const xMatch = v => xTickValues.indexOf(Math.round(v));

panels.forEach(p => {
  const c = cols[p.col];
  const top = Math.round(ROW0 + ROW_STEP * p.row);
  const canvas = document.createElement('canvas');
  canvas.width = c.right + PAD_R - c.cell;
  canvas.height = Math.round(PAD_TOP + PLOT_H + AXIS_H);
  canvas.style.left = c.cell + 'px';
  canvas.style.top = (top - PAD_TOP) + 'px';
  document.body.appendChild(canvas);

  const major = Math.abs(parseFloat(p.ticks[1]) - parseFloat(p.ticks[0]));
  const minor = major / 5;
  const yLabel = v => p.ticks.find(l => Math.abs(parseFloat(l) - v) < major * 1e-3);

  new Chart(canvas, {
    type: 'line',
    data: { datasets: p.sets },
    options: {
      responsive: false,
      animation: false,
      events: [],
      layout: { padding: { top: PAD_TOP, right: PAD_R, left: 0, bottom: 0 } },
      elements: { point: { radius: 0 }, line: { tension: 0, fill: false } },
      plugins: { legend: { display: false }, tooltip: { enabled: false } },
      scales: {
        x: {
          type: 'linear', min: X_MIN, max: X_MAX,
          afterFit: s => { s.height = AXIS_H; },
          border: { color: '#9a9a9a', width: 1.5 },
          grid: { drawTicks: false, color: ctx => (ctx.tick && xMatch(ctx.tick.value) >= 0) ? MAJOR_GRID : MINOR_GRID },
          ticks: {
            stepSize: 30, includeBounds: false, autoSkip: false, maxRotation: 0, padding: 6,
            callback: v => { const i = xMatch(v); return i >= 0 ? xTickLabels[i] : ''; }
          }
        },
        y: {
          type: 'linear', min: p.y[0], max: p.y[1],
          afterFit: s => { s.width = c.left - c.cell; },
          // minor ticks every fifth of the labelled step, aligned on multiples of it
          afterBuildTicks: s => {
            const k0 = Math.ceil(p.y[0] / minor - 1e-6), k1 = Math.floor(p.y[1] / minor + 1e-6);
            const list = [];
            for (let k = k0; k <= k1; k++) list.push({ value: k * minor });
            s.ticks = list;
          },
          border: { color: '#9a9a9a', width: 1.5 },
          grid: { drawTicks: false, color: ctx => (ctx.tick && yLabel(ctx.tick.value) !== undefined) ? MAJOR_GRID : MINOR_GRID },
          ticks: {
            autoSkip: false, padding: 5,
            callback: v => yLabel(v) ?? ''
          }
        }
      }
    },
    plugins: [textPlugin(p, c)]
  });
});
</script>
</body>
</html>
